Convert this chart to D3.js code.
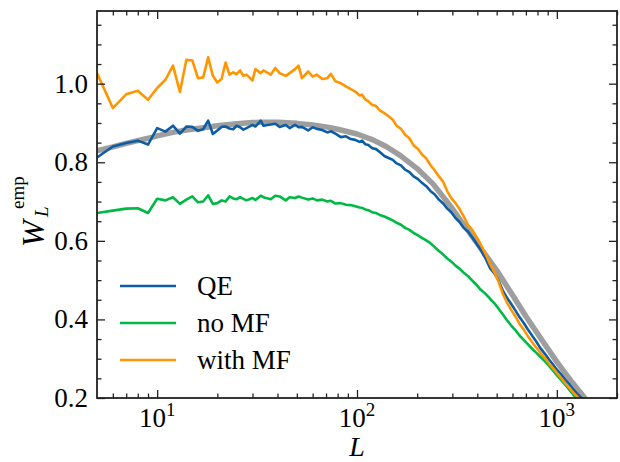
<!DOCTYPE html>
<html><head><meta charset="utf-8">
<script src="https://cdn.jsdelivr.net/npm/d3@7"></script>
<style>
svg text{font-family:"Liberation Serif","DejaVu Serif",serif !important;}
</style>
</head><body style="margin:0;background:#fff">
<svg id="chart" width="620" height="462" style="display:block"></svg>
<script>
// ---- data ----
const ell = [5,6,7,8,9,10,11,12,13,14,15,16,17,18,19,20,21,22,23,24,25,26,27,28,30,31,33,34,37,39,41,44,46,49,51,53,57,60,63,67,71,74,78,83,88,93,98,103,106,110,114,119,124,130,137,144,151,158,166,174,183,192,202,212,222,233,245,257,270,283,297,311,326,342,360,377,395,415,440,464,487,510,536,563,590,620,650,683,715,750,790,827,870,910,955,1000,1050,1100,1155,1212,1270,1334,1390,1450];

const wQE = [0.812,0.840,0.849,0.855,0.845,0.887,0.878,0.893,0.873,0.891,0.890,0.880,0.884,0.906,0.872,0.881,0.890,0.891,0.886,0.884,0.893,0.889,0.883,0.887,0.895,0.891,0.906,0.893,0.896,0.898,0.890,0.895,0.887,0.895,0.889,0.890,0.881,0.889,0.885,0.882,0.876,0.879,0.873,0.864,0.866,0.859,0.857,0.852,0.855,0.846,0.844,0.836,0.834,0.826,0.816,0.811,0.806,0.797,0.792,0.781,0.775,0.764,0.757,0.747,0.739,0.727,0.718,0.705,0.695,0.682,0.672,0.658,0.648,0.633,0.623,0.609,0.594,0.578,0.555,0.530,0.517,0.500,0.474,0.455,0.440,0.423,0.406,0.391,0.375,0.360,0.343,0.327,0.313,0.299,0.286,0.272,0.260,0.247,0.235,0.221,0.210,0.199,0.190,0.180];

const wNoMF = [0.671,0.677,0.682,0.683,0.671,0.707,0.703,0.711,0.694,0.705,0.713,0.698,0.700,0.716,0.694,0.696,0.703,0.700,0.713,0.708,0.706,0.711,0.707,0.703,0.709,0.704,0.715,0.711,0.706,0.715,0.713,0.703,0.711,0.709,0.713,0.710,0.705,0.708,0.703,0.705,0.700,0.702,0.695,0.696,0.692,0.691,0.688,0.685,0.684,0.680,0.678,0.673,0.671,0.666,0.662,0.657,0.652,0.646,0.641,0.633,0.628,0.620,0.614,0.607,0.601,0.594,0.584,0.574,0.565,0.555,0.547,0.537,0.529,0.519,0.510,0.499,0.489,0.476,0.465,0.452,0.441,0.428,0.413,0.398,0.385,0.373,0.359,0.348,0.337,0.326,0.315,0.305,0.294,0.283,0.270,0.258,0.246,0.234,0.221,0.208,0.195,0.182,0.172,0.162];

const wWithMF = [1.027,0.938,0.973,0.982,0.959,0.989,1.010,1.046,0.979,1.061,1.059,1.014,1.016,1.067,1.020,1.003,1.012,1.054,1.023,1.029,1.024,1.034,1.020,1.023,1.008,1.037,1.027,1.034,1.023,1.040,1.027,1.020,1.027,1.037,1.046,1.014,1.031,1.018,1.023,1.012,1.014,1.025,1.006,1.001,0.993,0.986,0.980,0.970,0.972,0.960,0.955,0.946,0.944,0.932,0.925,0.917,0.908,0.893,0.885,0.870,0.861,0.843,0.834,0.819,0.810,0.793,0.779,0.764,0.750,0.726,0.708,0.696,0.681,0.662,0.640,0.628,0.611,0.592,0.566,0.540,0.520,0.497,0.466,0.443,0.425,0.408,0.389,0.374,0.358,0.343,0.328,0.315,0.302,0.289,0.276,0.264,0.251,0.238,0.226,0.213,0.202,0.190,0.180,0.170];

const ellTheory = [5,6,7,8,9,10,12,14,17,20,25,30,35,40,50,60,70,80,100,120,140,165,200,240,290,350,420,500,600,700,830,1000,1200,1400,1500];
const wTheory = [0.829,0.839,0.848,0.855,0.861,0.867,0.876,0.882,0.888,0.893,0.898,0.901,0.902,0.902,0.899,0.895,0.890,0.884,0.872,0.857,0.840,0.817,0.784,0.745,0.692,0.634,0.578,0.525,0.462,0.408,0.352,0.292,0.238,0.196,0.178];

const seriesNames = ["QE","no MF","with MF"];
const seriesColors = ["#0C5DA5","#00B945","#FF9500"];
const theoryColor = "#9e9e9e";
const xMajorTicks = [10,100,1000];
const xMajorExp = ["1","2","3"];
const yMajorTicks = [0.2,0.4,0.6,0.8,1.0];
const yMinorTicks = [0.25,0.3,0.35,0.45,0.5,0.55,0.65,0.7,0.75,0.85,0.9,0.95,1.05,1.1,1.15];
const xMinorTicks = [6,7,8,9,20,30,40,50,60,70,80,90,200,300,400,500,600,700,800,900,2000];

// ---- layout ----
const m = {left:97, right:617, top:11, bottom:398};
const svg = d3.select("#chart");

const x = d3.scaleLog().domain([5,2000]).range([m.left, m.right]);
const y = d3.scaleLinear().domain([0.2,1.185]).range([m.bottom, m.top]);

svg.append("defs").append("clipPath").attr("id","clip")
  .append("rect").attr("x",m.left).attr("y",m.top)
  .attr("width",m.right-m.left).attr("height",m.bottom-m.top);

const plot = svg.append("g").attr("clip-path","url(#clip)");
const line = d3.line().x(d=>x(d[0])).y(d=>y(d[1]));

plot.append("path")
  .datum(ellTheory.map((l,i)=>[l,wTheory[i]]))
  .attr("d",line).attr("fill","none").attr("stroke",theoryColor)
  .attr("stroke-width",5.5).attr("stroke-linejoin","round");

const series = [wQE, wNoMF, wWithMF];
series.forEach((s,k)=>{
  plot.append("path")
    .datum(ell.map((l,i)=>[l,s[i]]))
    .attr("d",line).attr("fill","none").attr("stroke",seriesColors[k])
    .attr("stroke-width",2.6).attr("stroke-linejoin","round");
});

// ---- axes (inward ticks on all sides) ----
const axColor = "#222";
function styleAxis(g){
  g.select(".domain").remove();
  g.selectAll(".tick line").attr("stroke",axColor).attr("stroke-width",1.3);
  g.selectAll(".tick text").remove();
}
const majL = 8, minL = 4.5;
svg.append("g").attr("transform",`translate(0,${m.bottom})`)
  .call(d3.axisBottom(x).tickValues(xMajorTicks).tickSize(-majL)).call(styleAxis);
svg.append("g").attr("transform",`translate(0,${m.bottom})`)
  .call(d3.axisBottom(x).tickValues(xMinorTicks).tickSize(-minL)).call(styleAxis);
svg.append("g").attr("transform",`translate(0,${m.top})`)
  .call(d3.axisTop(x).tickValues(xMajorTicks).tickSize(-majL)).call(styleAxis);
svg.append("g").attr("transform",`translate(0,${m.top})`)
  .call(d3.axisTop(x).tickValues(xMinorTicks).tickSize(-minL)).call(styleAxis);
svg.append("g").attr("transform",`translate(${m.left},0)`)
  .call(d3.axisLeft(y).tickValues(yMajorTicks).tickSize(-majL)).call(styleAxis);
svg.append("g").attr("transform",`translate(${m.left},0)`)
  .call(d3.axisLeft(y).tickValues(yMinorTicks).tickSize(-minL)).call(styleAxis);
svg.append("g").attr("transform",`translate(${m.right},0)`)
  .call(d3.axisRight(y).tickValues(yMajorTicks).tickSize(-majL)).call(styleAxis);
svg.append("g").attr("transform",`translate(${m.right},0)`)
  .call(d3.axisRight(y).tickValues(yMinorTicks).tickSize(-minL)).call(styleAxis);

svg.append("rect").attr("x",m.left).attr("y",m.top)
  .attr("width",m.right-m.left).attr("height",m.bottom-m.top)
  .attr("fill","none").attr("stroke",axColor).attr("stroke-width",1.8);

// tick labels
function txt(sel, size){ return sel.append("text").style("font-size",size+"px").attr("fill","#000"); }
yMajorTicks.forEach(v=>{
  txt(svg,27).attr("x",m.left-9).attr("y",y(v)+9)
    .attr("text-anchor","end").text(v.toFixed(1));
});
xMajorTicks.forEach((v,i)=>{
  const t = txt(svg,27).attr("x",x(v)).attr("y",427).attr("text-anchor","middle");
  t.append("tspan").text("10");
  t.append("tspan").style("font-size","19px").attr("dy",-11).text(xMajorExp[i]);
});

// axis labels
txt(svg,28).attr("x",(m.left+m.right)/2).attr("y",456)
  .attr("text-anchor","middle").style("font-style","italic").text("L");

const yl = svg.append("g").attr("transform","translate(44,247) rotate(-90)");
txt(yl,32).attr("x",0).attr("y",0).style("font-style","italic").text("W");
txt(yl,19).attr("x",30).attr("y",4).style("font-style","italic").text("L");
txt(yl,19).attr("x",38).attr("y",-20).text("emp");

// legend
const legY = [286,323,360];
seriesNames.forEach((n,k)=>{
  svg.append("line").attr("x1",120).attr("x2",176).attr("y1",legY[k]).attr("y2",legY[k])
    .attr("stroke",seriesColors[k]).attr("stroke-width",2.6);
  txt(svg,27).attr("x",197).attr("y",legY[k]+9).text(n);
});
</script>
</body></html>
